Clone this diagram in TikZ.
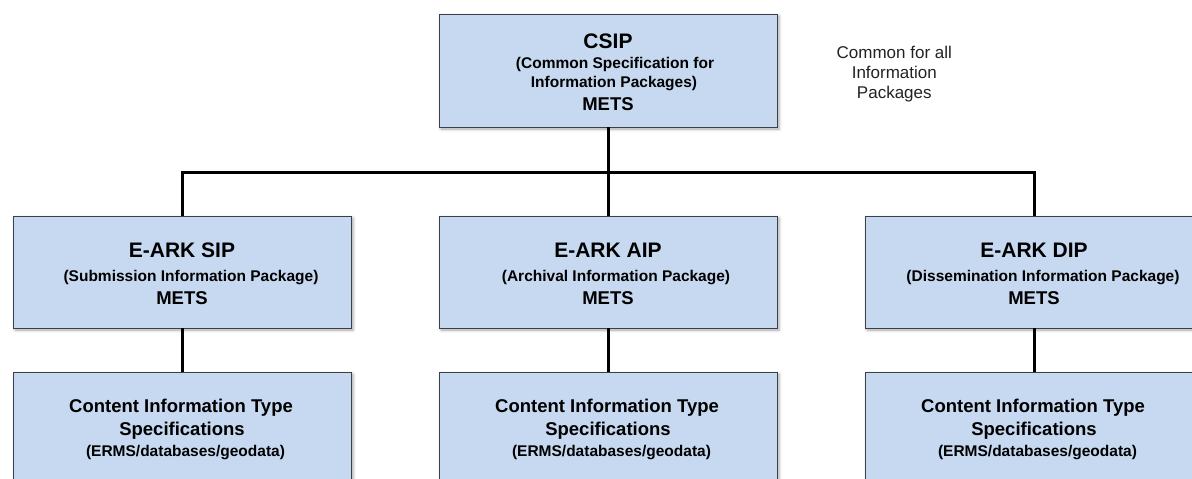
\documentclass[tikz,border=0pt]{standalone}
\usepackage{fontspec}
\setmainfont{Liberation Sans}
\usetikzlibrary{shadows.blur}
\definecolor{boxfill}{HTML}{C6D9F0}
\definecolor{boxline}{HTML}{3A3F48}
\definecolor{notecol}{HTML}{222222}
\begin{document}
\begin{tikzpicture}[x=1pt,y=-1pt,
  pkg/.style={draw=boxline,line width=0.9pt,fill=boxfill,minimum width=338pt,
    minimum height=112pt,inner sep=0pt,
    blur shadow={shadow xshift=2pt,shadow yshift=-2pt,shadow blur radius=3pt,shadow opacity=35}},
  title/.style={anchor=base,inner sep=0pt,font=\fontsize{21}{24}\selectfont\bfseries},
  sub/.style={anchor=base,inner sep=0pt,font=\fontsize{15.5}{18}\selectfont\bfseries},
  mets/.style={anchor=base,inner sep=0pt,font=\fontsize{18.5}{22}\selectfont\bfseries},
  link/.style={line width=3pt,black}]
\useasboundingbox (0,0) rectangle (1192,479);
\clip (0,0) rectangle (1192,479);
% boxes
\node[pkg,minimum height=113pt] (csip) at (608,70.5) {};
\node[pkg] (sip) at (182,272) {};
\node[pkg] (aip) at (608,272) {};
\node[pkg] (dip) at (1034,272) {};
\node[pkg] (csit) at (182,428) {};
\node[pkg] (cait) at (608,428) {};
\node[pkg] (cdit) at (1034,428) {};
% CSIP texts
\node[title] (csipA) at (608,48.3) {CSIP};
\node[sub] (csipB) at (615,68.3) {(Common Specification for};
\node[sub] (csipC) at (614,87.3) {Information Packages)};
\node[mets] (csipD) at (608,110) {METS};
% SIP / AIP / DIP texts
\node[title] (sipA) at (182,257.3) {E-ARK SIP};
\node[sub] (sipB) at (191,281.7) {(Submission Information Package)};
\node[mets] (sipC) at (182,304) {METS};
\node[title] (aipA) at (608,257.3) {E-ARK AIP};
\node[sub] (aipB) at (616,281.7) {(Archival Information Package)};
\node[mets] (aipC) at (608,304) {METS};
\node[title] (dipA) at (1034,257.3) {E-ARK DIP};
\node[sub] (dipB) at (1043,281.7) {(Dissemination Information Package)};
\node[mets] (dipC) at (1034,304) {METS};
% content information type texts
\foreach \cx/\nm in {182/s,608/a,1034/d}{
  \node[mets] (\nm ctA) at (\cx-1,412.7) {Content Information Type};
  \node[mets] (\nm ctB) at (\cx,435) {Specifications};
  \node[sub] (\nm ctC) at (\cx+3.5,456.7) {(ERMS/databases/geodata)};
}
% note
\node[align=center,text=notecol,font=\fontsize{17}{20}\selectfont] (note) at (894.3,74)
  {Common for all\\Information\\Packages};
% connectors
\coordinate (bus) at (608,172);
\draw[link] (csip.south) -- (bus);
\draw[link] (sip.north) |- (bus) -| (dip.north);
\draw[link] (bus) -- (aip.north);
\draw[link] (sip.south) -- (csit.north);
\draw[link] (aip.south) -- (cait.north);
\draw[link] (dip.south) -- (cdit.north);
\end{tikzpicture}
\end{document}
